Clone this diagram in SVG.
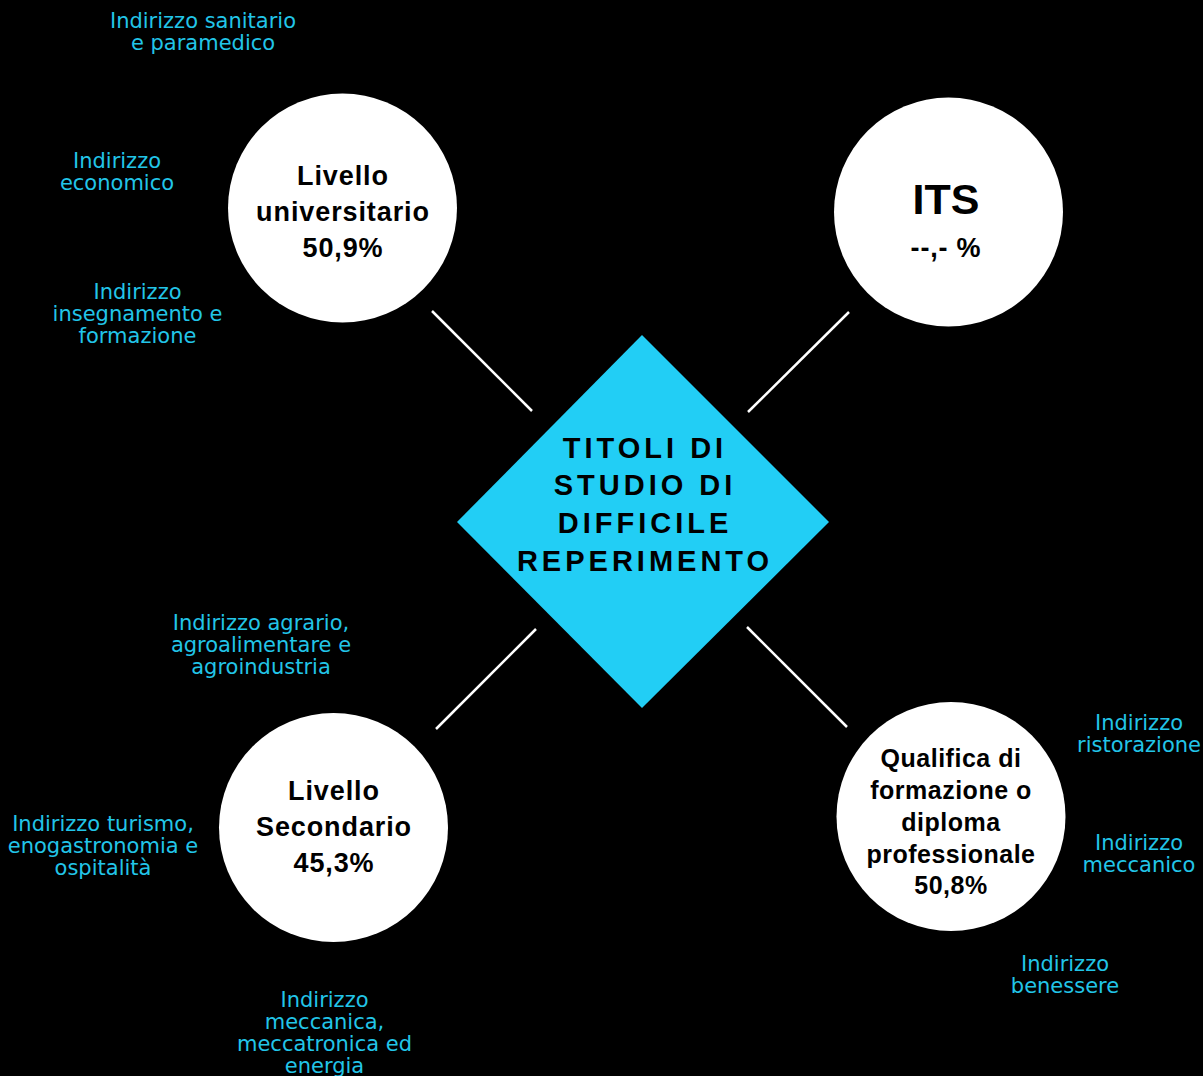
<svg xmlns="http://www.w3.org/2000/svg" width="1203" height="1076" viewBox="0 0 1203 1076">
<style>
.bg{fill:#000}
.circle{fill:#fff}
.diamond{fill:#22CEF5}
.conn{stroke:#fff;stroke-width:2.5;fill:none}
.node{font-family:"Liberation Sans",Arial,sans-serif;font-weight:bold;fill:#000;text-anchor:middle}
.title{font-family:"Liberation Sans",Arial,sans-serif;font-weight:bold;fill:#000;text-anchor:middle;font-size:29px;letter-spacing:4px}
.lbl{font-family:"DejaVu Sans",sans-serif;font-size:21px;fill:#22C5E8;text-anchor:middle}
</style>
<rect class="bg" x="0" y="0" width="1203" height="1076"/>
<g id="connectors">
<line class="conn" x1="432" y1="311" x2="532" y2="411"/>
<line class="conn" x1="849" y1="312" x2="748" y2="412"/>
<line class="conn" x1="536" y1="629" x2="436" y2="729"/>
<line class="conn" x1="747" y1="627" x2="847" y2="727"/>
</g>
<g id="center">
<polygon class="diamond" points="642,335 829,522 642,708 457,522"/>
<text class="title"><tspan x="645" y="458">TITOLI DI</tspan><tspan x="645" y="495">STUDIO DI</tspan><tspan x="645" y="533">DIFFICILE</tspan><tspan x="645" y="571">REPERIMENTO</tspan></text>
</g>
<g id="universitario">
<circle class="circle" cx="342.5" cy="208" r="114.5"/>
<text class="node" font-size="27" letter-spacing="0.9"><tspan x="343" y="185">Livello</tspan><tspan x="343" y="221">universitario</tspan><tspan x="343" y="257">50,9%</tspan></text>
</g>
<g id="its">
<circle class="circle" cx="948.5" cy="212" r="114.5"/>
<text class="node" font-size="43" x="946" y="214">ITS</text>
<text class="node" font-size="27" letter-spacing="0.8" x="946" y="257">--,- %</text>
</g>
<g id="secondario">
<circle class="circle" cx="333.5" cy="827.5" r="114.5"/>
<text class="node" font-size="27" letter-spacing="0.9"><tspan x="334" y="800">Livello</tspan><tspan x="334" y="836">Secondario</tspan><tspan x="334" y="872">45,3%</tspan></text>
</g>
<g id="qualifica">
<circle class="circle" cx="951" cy="816.5" r="114.5"/>
<text class="node" font-size="25" letter-spacing="0.5"><tspan x="951" y="767">Qualifica di</tspan><tspan x="951" y="799">formazione o</tspan><tspan x="951" y="831">diploma</tspan><tspan x="951" y="863">professionale</tspan><tspan x="951" y="894">50,8%</tspan></text>
</g>
<g id="labels">
<text class="lbl"><tspan x="203" y="28">Indirizzo sanitario</tspan><tspan x="203" y="50">e paramedico</tspan></text>
<text class="lbl"><tspan x="117" y="168">Indirizzo</tspan><tspan x="117" y="190">economico</tspan></text>
<text class="lbl"><tspan x="137.5" y="299">Indirizzo</tspan><tspan x="137.5" y="321">insegnamento e</tspan><tspan x="137.5" y="343">formazione</tspan></text>
<text class="lbl"><tspan x="261" y="630">Indirizzo agrario,</tspan><tspan x="261" y="652">agroalimentare e</tspan><tspan x="261" y="674">agroindustria</tspan></text>
<text class="lbl"><tspan x="103" y="831">Indirizzo turismo,</tspan><tspan x="103" y="853">enogastronomia e</tspan><tspan x="103" y="875">ospitalità</tspan></text>
<text class="lbl"><tspan x="324.5" y="1007">Indirizzo</tspan><tspan x="324.5" y="1029">meccanica,</tspan><tspan x="324.5" y="1051">meccatronica ed</tspan><tspan x="324.5" y="1073">energia</tspan></text>
<text class="lbl"><tspan x="1139" y="730">Indirizzo</tspan><tspan x="1139" y="752">ristorazione</tspan></text>
<text class="lbl"><tspan x="1139" y="850">Indirizzo</tspan><tspan x="1139" y="872">meccanico</tspan></text>
<text class="lbl"><tspan x="1065" y="971">Indirizzo</tspan><tspan x="1065" y="993">benessere</tspan></text>
</g>
</svg>
